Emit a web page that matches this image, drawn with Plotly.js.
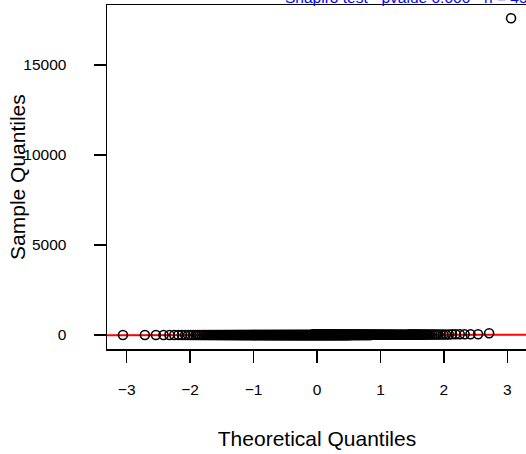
<!DOCTYPE html>
<html><head><meta charset="utf-8">
<script src="https://cdn.plot.ly/plotly-3.0.1.min.js"></script>
<style>html,body{margin:0;padding:0;overflow:hidden;background:#fff}</style>
</head><body><div id="chart"></div>
<script>
// Sorted sample values (distinct levels) and how many observations sit at each level
const sampleLevels = [0, 1, 2, 3, 4, 5, 6, 7, 8, 10, 12, 15, 20, 28, 40, 95, 17600];
const sampleCounts = [60, 55, 50, 45, 40, 35, 30, 25, 22, 20, 18, 16, 14, 12, 6, 1, 1];
const titleText = "Shapiro test - pvalue 0.000 - n = 450";
const xTickVals = [-3, -2, -1, 0, 1, 2, 3];
const yTickVals = [0, 5000, 10000, 15000];
const xAxisTitle = "Theoretical Quantiles";
const yAxisTitle = "Sample Quantiles";

// expand the level/count table into the sorted sample
const sample = [];
sampleLevels.forEach((v, i) => { for (let k = 0; k < sampleCounts[i]; k++) sample.push(v); });
const n = sample.length;

// inverse normal CDF (Acklam)
function qnorm(p) {
  const a = [-3.969683028665376e+01, 2.209460984245205e+02, -2.759285104469687e+02, 1.383577518672690e+02, -3.066479806614716e+01, 2.506628277459239e+00];
  const b = [-5.447609879822406e+01, 1.615858368580409e+02, -1.556989798598866e+02, 6.680131188771972e+01, -1.328068155288572e+01];
  const c = [-7.784894002430293e-03, -3.223964580411365e-01, -2.400758277161838e+00, -2.549732539343734e+00, 4.374664141464968e+00, 2.938163982698783e+00];
  const d = [7.784695709041462e-03, 3.224671290700398e-01, 2.445134137142996e+00, 3.754408661907416e+00];
  const pl = 0.02425, ph = 1 - pl;
  let q, r;
  if (p < pl) { q = Math.sqrt(-2 * Math.log(p));
    return (((((c[0]*q+c[1])*q+c[2])*q+c[3])*q+c[4])*q+c[5]) / ((((d[0]*q+d[1])*q+d[2])*q+d[3])*q+1); }
  if (p > ph) { q = Math.sqrt(-2 * Math.log(1 - p));
    return -(((((c[0]*q+c[1])*q+c[2])*q+c[3])*q+c[4])*q+c[5]) / ((((d[0]*q+d[1])*q+d[2])*q+d[3])*q+1); }
  q = p - 0.5; r = q * q;
  return (((((a[0]*r+a[1])*r+a[2])*r+a[3])*r+a[4])*r+a[5])*q / (((((b[0]*r+b[1])*r+b[2])*r+b[3])*r+b[4])*r+1);
}
const aa = n <= 10 ? 3 / 8 : 0.5;
const theo = sample.map((_, i) => qnorm((i + 1 - aa) / (n + 1 - 2 * aa)));

function quant(arr, p) { const h = (arr.length - 1) * p, lo = Math.floor(h); const hi = Math.min(lo + 1, arr.length - 1); return arr[lo] + (h - lo) * (arr[hi] - arr[lo]); }
const q1 = quant(sample, 0.25), q3 = quant(sample, 0.75);
const z1 = qnorm(0.25), z3 = qnorm(0.75);
const slope = (q3 - q1) / (z3 - z1), intercept = q1 - slope * z1;
const lineX = [-5, 5];
const lineY = lineX.map(x => intercept + slope * x);

const font = {family: "Liberation Sans, Arial, sans-serif", color: "#000"};
const data = [
  {x: lineX, y: lineY, type: "scatter", mode: "lines", line: {color: "#ff0000", width: 2}, hoverinfo: "skip"},
  {x: theo, y: sample, type: "scatter", mode: "markers",
   marker: {symbol: "circle-open", size: 9, color: "#000", line: {width: 1.6, color: "#000"}}}
];
const layout = {
  width: 540, height: 454,
  margin: {l: 107, r: 13.3, t: 5, b: 105, pad: 0},
  paper_bgcolor: "#fff", plot_bgcolor: "#fff",
  showlegend: false,
  font: Object.assign({size: 15.5}, font),
  xaxis: {range: [-3.31, 3.31], tickvals: xTickVals, ticks: "outside", ticklen: 12, tickwidth: 1.3, tickcolor: "#000",
          showline: true, mirror: true, linecolor: "#000", linewidth: 1.5, showgrid: false, zeroline: false,
          tickfont: Object.assign({size: 15.5}, font), ticklabelstandoff: 14,
          title: {text: xAxisTitle, font: Object.assign({size: 21}, font), standoff: 34}},
  yaxis: {range: [-778, 18333], tickvals: yTickVals, tickformat: "d", ticks: "outside", ticklen: 12, tickwidth: 1.3, tickcolor: "#000",
          showline: true, mirror: true, linecolor: "#000", linewidth: 1.5, showgrid: false, zeroline: false,
          tickfont: Object.assign({size: 15.5}, font), ticklabelstandoff: 24},
  annotations: [
    {text: titleText, xref: "paper", yref: "paper", x: 0.4193, y: 1.0218, xanchor: "left", yanchor: "middle",
     showarrow: false, font: {family: font.family, size: 15.5, color: "#0000ff"}},
    {text: yAxisTitle, xref: "paper", yref: "paper", x: -0.2144, y: 0.5, xanchor: "center", yanchor: "middle",
     textangle: -90, showarrow: false, font: Object.assign({size: 21}, font)}
  ]
};
Plotly.newPlot("chart", data, layout, {staticPlot: true, displayModeBar: false});
</script></body></html>
